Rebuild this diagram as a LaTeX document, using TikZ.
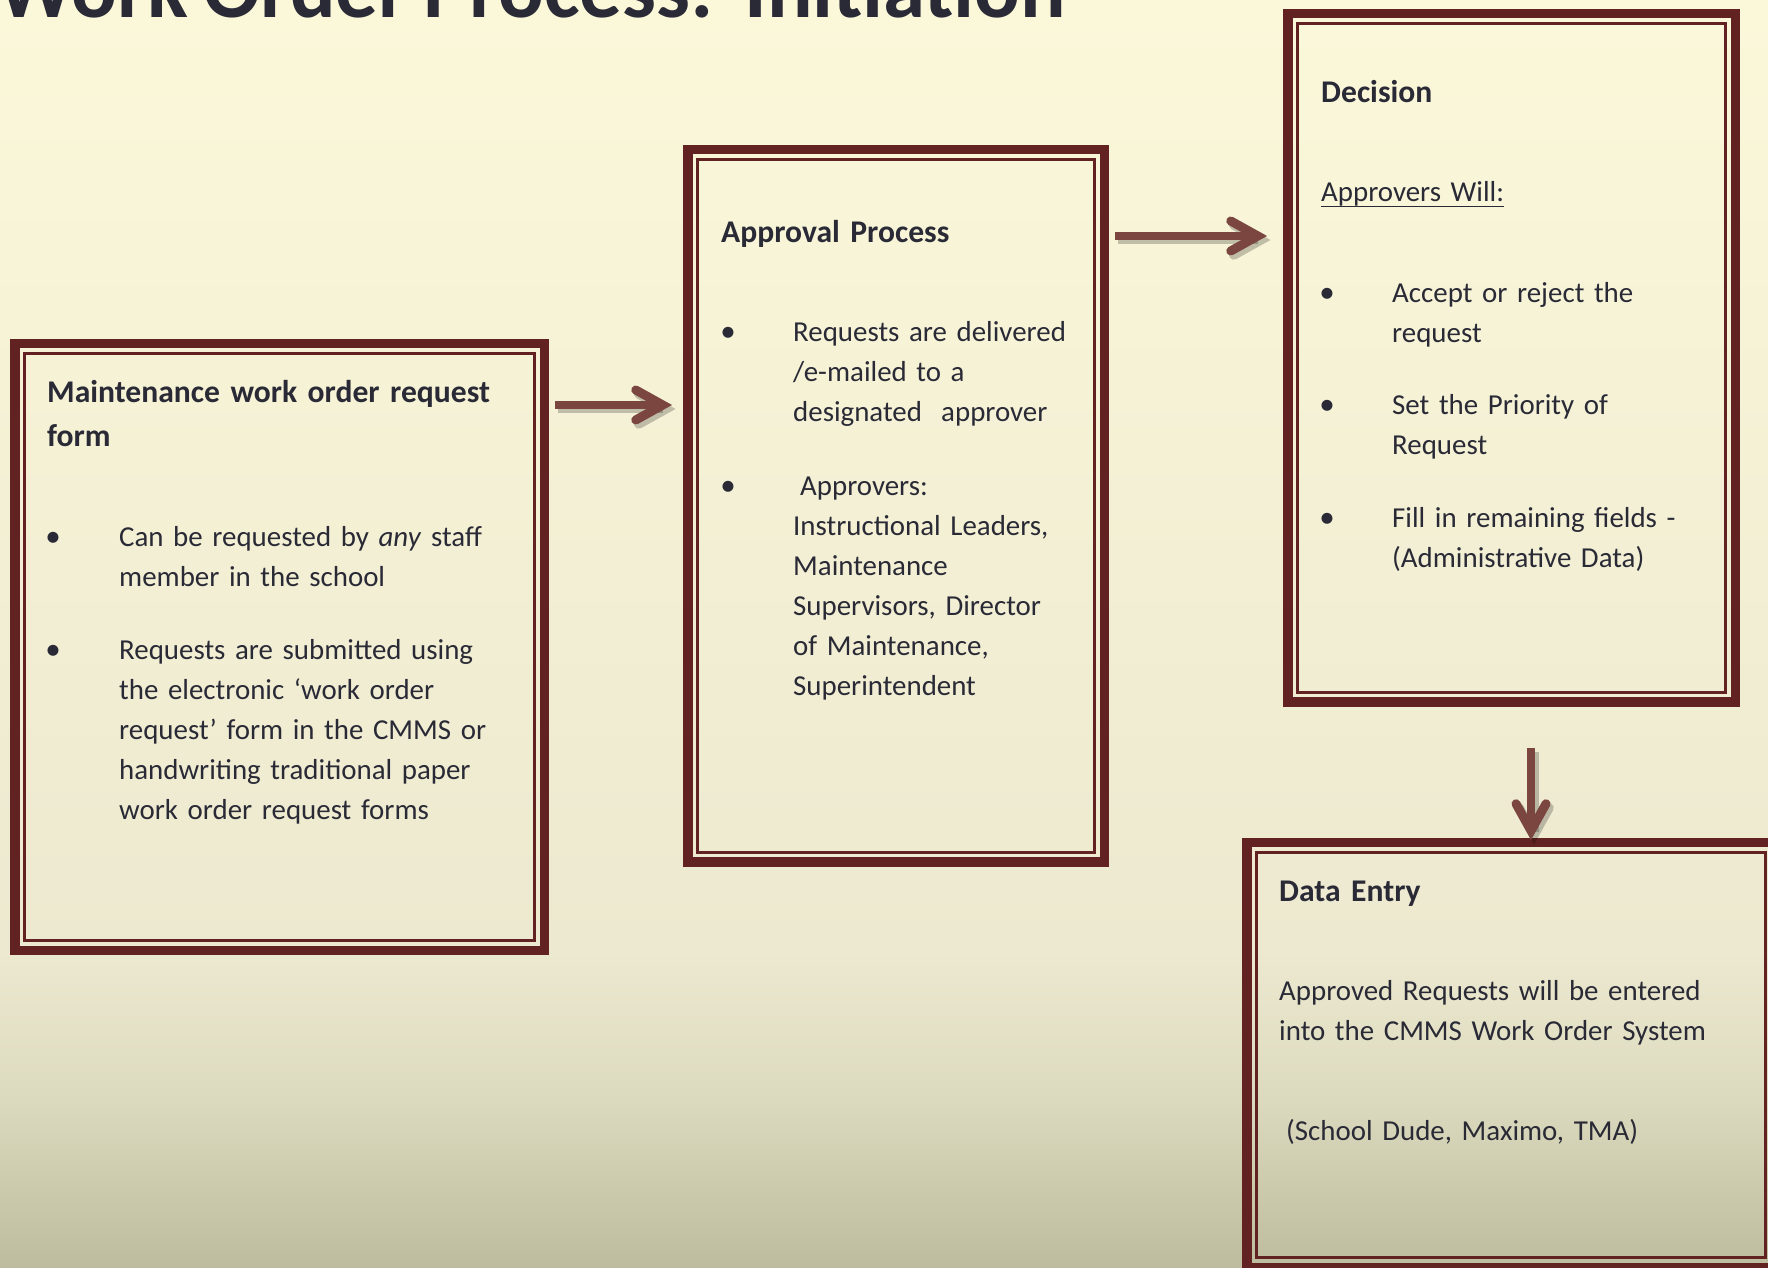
\documentclass[tikz,border=0pt]{standalone}
\usepackage{fontspec}
\setmainfont{Carlito}[WordSpace=0.8]
\usetikzlibrary{calc}
\definecolor{bgtop}{RGB}{251,248,218}
\definecolor{bgmid}{RGB}{236,233,208}
\definecolor{bglow}{RGB}{220,218,190}
\definecolor{bgbot}{RGB}{190,188,158}
\definecolor{boxred}{RGB}{99,34,34}
\definecolor{arrowred}{RGB}{123,70,64}
\definecolor{txt}{RGB}{42,42,54}
\newcommand{\myul}[1]{\setbox0\hbox{#1}\rlap{\rule[-5.5pt]{\wd0}{1.8pt}}\box0}
\begin{document}
\begin{tikzpicture}[x=1pt,y=1pt,
  boxo/.style={draw=boxred, line width=9.5pt, rectangle, inner sep=0pt, outer sep=0pt},
  boxi/.style={draw=boxred, line width=3pt},
  head/.style={font=\fontsize{31.6}{44}\selectfont\bfseries, text=txt, anchor=base west, inner sep=0pt, align=left, text width=460pt},
  body/.style={font=\fontsize{28.9}{40}\selectfont, text=txt, anchor=base west, inner sep=0pt, align=left, text width=440pt},
  bul/.style={font=\fontsize{31}{40}\selectfont, text=txt, anchor=base, inner sep=0pt},
  shaft/.style={line width=8.5pt, draw=arrowred},
  chev/.style={line width=9pt, draw=arrowred, line cap=round, line join=miter},
  shshaft/.style={line width=9pt, draw=black, opacity=0.22},
  shchev/.style={line width=9.5pt, draw=black, opacity=0.22, line cap=round, line join=miter},
]
\useasboundingbox (0,0) rectangle (1768,1267);
\clip (0,0) rectangle (1768,1267);
% background
\shade[top color=bgtop, bottom color=bgmid] (0,317) rectangle (1768,1268);
\shade[top color=bgmid, bottom color=bglow] (0,167) rectangle (1768,317.5);
\shade[top color=bglow, bottom color=bgbot] (0,-1) rectangle (1768,167.5);
% title
\node[font=\fontsize{85}{90}\selectfont\bfseries, text=txt, anchor=base east, inner sep=0pt] (title) at (1066,1249) {Work Order Process:\ \ Initiation};
% boxes
\node[boxo, minimum width=529.5pt, minimum height=606.5pt] (b1) at (279.5,620) {};
\draw[boxi] ($(b1.north west)+(9.75,-9.75)$) rectangle ($(b1.south east)+(-9.75,9.75)$);
\node[boxo, minimum width=416.5pt, minimum height=712.5pt] (b2) at (896,761) {};
\draw[boxi] ($(b2.north west)+(9.75,-9.75)$) rectangle ($(b2.south east)+(-9.75,9.75)$);
\node[boxo, minimum width=447.5pt, minimum height=688.5pt] (b3) at (1511.5,909) {};
\draw[boxi] ($(b3.north west)+(9.75,-9.75)$) rectangle ($(b3.south east)+(-9.75,9.75)$);
\node[boxo, minimum width=528.5pt, minimum height=424.5pt] (b4) at (1511,212) {};
\draw[boxi] ($(b4.north west)+(9.75,-9.75)$) rectangle ($(b4.south east)+(-9.75,9.75)$);
% arrow coordinates
\coordinate (ya1) at (0,862);
\coordinate (ya2) at (0,1031);
\coordinate (xa3) at (1531,0);
\coordinate (s1) at ($(b1.east |- ya1)+(10.75,0)$);
\coordinate (t1) at ($(b2.west |- ya1)+(-25,0)$);
\coordinate (s2) at ($(b2.east |- ya2)+(10.75,0)$);
\coordinate (t2) at ($(b3.west |- ya2)+(-30,0)$);
\coordinate (s3) at ($(b3.south -| xa3)+(0,-45.75)$);
\coordinate (t3) at ($(b4.north -| xa3)+(0,12)$);
% shadows
\begin{scope}[transform canvas={shift={(3pt,-4pt)}}]
\draw[shshaft] (s1) -- ($(t1)+(-3,0)$);
\draw[shchev] ($(t1)+(-27,15)$) -- (t1) -- ($(t1)+(-27,-15)$);
\draw[shshaft] (s2) -- ($(t2)+(-3,0)$);
\draw[shchev] ($(t2)+(-27,15)$) -- (t2) -- ($(t2)+(-27,-15)$);
\draw[shshaft] (s3) -- ($(t3)+(0,3)$);
\draw[shchev] ($(t3)+(-15,27)$) -- (t3) -- ($(t3)+(15,27)$);
\end{scope}
% arrows
\draw[shaft] (s1) -- ($(t1)+(-3,0)$);
\draw[chev] ($(t1)+(-27,15)$) -- (t1) -- ($(t1)+(-27,-15)$);
\draw[shaft] (s2) -- ($(t2)+(-3,0)$);
\draw[chev] ($(t2)+(-27,15)$) -- (t2) -- ($(t2)+(-27,-15)$);
\draw[shaft] (s3) -- ($(t3)+(0,3)$);
\draw[chev] ($(t3)+(-15,27)$) -- (t3) -- ($(t3)+(15,27)$);
% box 1 text
\node[head] (h1) at (47,864) {Maintenance work order request\\form};
\node[bul] (d11) at (53,720) {•};
\node[body] (t11) at (119,720) {Can be requested by \textit{any} staff\\member in the school};
\node[bul] (d12) at (53,607) {•};
\node[body] (t12) at (119,607) {Requests are submitted using\\the electronic ‘work order\\request’ form in the CMMS or\\handwriting traditional paper\\work order request forms};
% box 2 text
\node[head] (h2) at (721,1024) {Approval Process};
\node[bul] (d21) at (728,925) {•};
\node[body] (t21) at (793,925) {Requests are delivered\\/e-mailed to a\\designated\ \ approver};
\node[bul] (d22) at (728,771) {•};
\node[body] (t22) at (793,771) {\hspace*{7pt}Approvers:\\Instructional Leaders,\\Maintenance\\Supervisors, Director\\of Maintenance,\\Superintendent};
% box 3 text
\node[head] (h3) at (1321,1164) {Decision};
\node[body] (u3) at (1321,1065) {\myul{Approvers Will:}};
\node[bul] (d31) at (1327,964) {•};
\node[body] (t31) at (1392,964) {Accept or reject the\\request};
\node[bul] (d32) at (1327,852) {•};
\node[body] (t32) at (1392,852) {Set the Priority of\\Request};
\node[bul] (d33) at (1327,739) {•};
\node[body] (t33) at (1392,739) {Fill in remaining fields -\\(Administrative Data)};
% box 4 text
\node[head] (h4) at (1279,366) {Data Entry};
\node[body] (t41) at (1279,267) {Approved Requests will be entered\\into the CMMS Work Order System};
\node[body] (t42) at (1286,127) {(School Dude, Maximo, TMA)};
\end{tikzpicture}
\end{document}
